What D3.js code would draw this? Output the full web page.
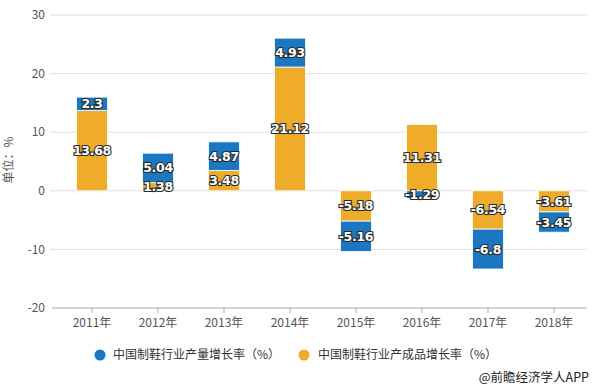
<!DOCTYPE html>
<html><head><meta charset="utf-8">
<script src="https://cdn.jsdelivr.net/npm/d3@7"></script>
<style>body{margin:0;background:#fff;}svg{display:block;font-family:"Noto Sans CJK SC","Microsoft YaHei",sans-serif;}</style>
</head><body>
<svg id="c" width="595" height="390"></svg>
<script>
const categories = ["2011年","2012年","2013年","2014年","2015年","2016年","2017年","2018年"];
const outputGrowth = [2.3, 5.04, 4.87, 4.93, -5.16, -1.29, -6.8, -3.45];
const finishedGrowth = [13.68, 1.38, 3.48, 21.12, -5.18, 11.31, -6.54, -3.61];
const seriesNames = ["中国制鞋行业产量增长率（%）","中国制鞋行业产成品增长率（%）"];
const yTicks = [-20, -10, 0, 10, 20, 30];
const colors = {blue:"#1c77c3", orange:"#efac28"};

const svg = d3.select("#c");
const x = d3.scaleBand().domain(categories).range([59, 587]).paddingInner(0.53).paddingOuter(0.265);
const y = d3.scaleLinear().domain([-20, 30]).range([308, 15]);

// gridlines
svg.append("g").selectAll("line").data(yTicks.filter(d=>d!==-20)).join("line")
  .attr("x1", 50).attr("x2", 587).attr("y1", d=>y(d)).attr("y2", d=>y(d))
  .attr("stroke", "#e0e0e0").attr("stroke-width", 1);
// y tick labels
svg.append("g").selectAll("text").data(yTicks).join("text")
  .attr("x", 45).attr("y", d=>y(d)).attr("dy", "0.35em").attr("text-anchor","end")
  .attr("font-size", 12).attr("fill", "#555").text(d=>d);
// x axis
const xa = svg.append("g").attr("transform", `translate(0,${y(-20)})`)
  .call(d3.axisBottom(x).tickSize(5).tickPadding(5));
xa.select(".domain").attr("stroke","#aaa").attr("d", "M52,0H587");
xa.selectAll(".tick line").attr("stroke","#aaa");
xa.selectAll(".tick text").attr("font-size", 12).attr("fill","#555").attr("font-family","'Noto Sans CJK SC',sans-serif");

// stacked bars: orange first from 0, blue stacked
const segs = [];
categories.forEach((c,i)=>{
  let pos = 0, neg = 0;
  [[finishedGrowth[i], colors.orange],[outputGrowth[i], colors.blue]].forEach(([v,col])=>{
    let y0, y1;
    if (v >= 0) { y0 = pos; y1 = pos + v; pos = y1; } else { y0 = neg; y1 = neg + v; neg = y1; }
    segs.push({c, v, y0, y1, col});
  });
});
svg.append("g").selectAll("rect").data(segs).join("rect")
  .attr("x", d=>x(d.c)).attr("width", x.bandwidth())
  .attr("y", d=>y(Math.max(d.y0,d.y1))).attr("height", d=>Math.abs(y(d.y0)-y(d.y1)))
  .attr("fill", d=>d.col).attr("stroke","#fff").attr("stroke-width",0.8);
svg.append("g").selectAll("text").data(segs).join("text")
  .attr("x", d=>x(d.c)+x.bandwidth()/2).attr("y", d=>y((d.y0+d.y1)/2)).attr("dy","0.36em")
  .attr("text-anchor","middle").attr("font-size", 12.5).attr("font-weight","bold")
  .attr("fill","#fff").attr("stroke","#2a2a2a").attr("stroke-width",2.2).attr("paint-order","stroke")
  .attr("font-family","'DejaVu Sans',sans-serif").attr("letter-spacing","-0.3")
  .text(d=>d.v);

// y axis title
svg.append("text").attr("transform","translate(13,160) rotate(-90)").attr("text-anchor","middle")
  .attr("font-size", 12).attr("fill","#555").text("单位：%");

// legend
const lg = svg.append("g");
[[100, 113, colors.blue, seriesNames[0]],[304, 318, colors.orange, seriesNames[1]]].forEach(([cx,tx,col,t])=>{
  lg.append("circle").attr("cx",cx).attr("cy",355).attr("r",5.5).attr("fill",col);
  lg.append("text").attr("x",tx).attr("y",355).attr("dy","0.35em").attr("font-size",12).attr("fill","#333").text(t);
});
// source
svg.append("text").attr("x",589).attr("y",378).attr("dy","0.35em").attr("text-anchor","end")
  .attr("font-size",12.5).attr("fill","#222").text("@前瞻经济学人APP");
</script>
</body></html>
